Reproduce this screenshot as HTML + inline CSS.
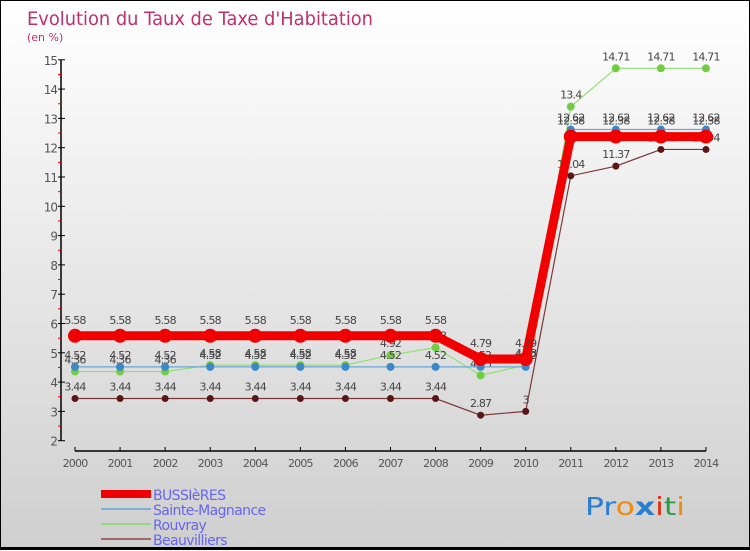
<!DOCTYPE html>
<html><head><meta charset="utf-8"><style>
html,body{margin:0;padding:0}
body{width:750px;height:550px;overflow:hidden;font-family:"DejaVu Sans","Liberation Sans",sans-serif}
#wrap{position:relative;width:748px;height:546px;border:1px solid #000;border-bottom:3px solid #000;background:linear-gradient(#ffffff,#cfcfcf)}
</style></head><body>
<div id="wrap">
<svg id="chart" width="748" height="546" xmlns="http://www.w3.org/2000/svg">
<text x="26" y="24" font-size="19" fill="#c0306a" font-family="DejaVu Sans, sans-serif" textLength="346" lengthAdjust="spacingAndGlyphs">Evolution du Taux de Taxe d'Habitation</text>
<text x="26" y="40" font-size="11" fill="#c0306a">(en %)</text>
<g id="axes"></g><g id="series"></g><g id="legend"></g>
<text x="584" y="514" font-size="25" font-family="DejaVu Sans, sans-serif" textLength="100" lengthAdjust="spacingAndGlyphs"><tspan fill="#2a7fd0">Pr</tspan><tspan fill="#f08a10">o</tspan><tspan fill="#2a7fd0" font-weight="bold">x</tspan><tspan fill="#e03010">i</tspan><tspan fill="#2a9a40">t</tspan><tspan fill="#f08a10">i</tspan></text>
</svg></div>
<script>
const years=[2000,2001,2002,2003,2004,2005,2006,2007,2008,2009,2010,2011,2012,2013,2014];
const bussieres=[5.58,5.58,5.58,5.58,5.58,5.58,5.58,5.58,5.58,4.79,4.79,12.38,12.38,12.38,12.38];
const sainteMagnance=[4.52,4.52,4.52,4.52,4.52,4.52,4.52,4.52,4.52,4.52,4.52,12.62,12.62,12.62,12.62];
const rouvray=[4.36,4.36,4.36,4.58,4.58,4.58,4.58,4.92,5.18,4.23,4.58,13.4,14.71,14.71,14.71];
const beauvilliers=[3.44,3.44,3.44,3.44,3.44,3.44,3.44,3.44,3.44,2.87,3,11.04,11.37,11.94,11.94];
const yTicks=[2,3,4,5,6,7,8,9,10,11,12,13,14,15];
const seriesNames=["BUSSIèRES","Sainte-Magnance","Rouvray","Beauvilliers"];
const NS="http://www.w3.org/2000/svg";
const xs=i=>74+i*45.07;
const ys=v=>439.7-(v-2)*29.3;
function mk(tag,attrs,parent,txt){const e=document.createElementNS(NS,tag);for(const k in attrs)e.setAttribute(k,attrs[k]);if(txt!==undefined)e.textContent=txt;parent.appendChild(e);return e;}
const ax=document.getElementById('axes');
let yl=mk('line',{x1:60,y1:ys(15),x2:60,y2:ys(2),stroke:'#000','stroke-width':1.5},ax);


yTicks.forEach(v=>{
  mk('line',{x1:57,y1:ys(v),x2:64,y2:ys(v),stroke:'#000'},ax);
  if(v<15) mk('line',{x1:57,y1:ys(v+0.5),x2:60,y2:ys(v+0.5),stroke:'#e00'},ax);
  let t=mk('text',{x:56,y:ys(v)+5,'font-size':12,fill:'#555','text-anchor':'end','letter-spacing':'-1'},ax,v);
  
  
});
let xl=mk('line',{x1:xs(0),y1:450,x2:xs(14),y2:450,stroke:'#000','stroke-width':1.5},ax);


years.forEach((y,i)=>{
  mk('line',{x1:xs(i),y1:446,x2:xs(i),y2:450,stroke:'#000'},ax);
  let t=mk('text',{x:xs(i),y:466,'font-size':11,fill:'#555','text-anchor':'middle','letter-spacing':'-0.8'},ax,y);
  
  
});
const sg=document.getElementById('series');
const defs=[
 {d:beauvilliers,c:'#7a3a3a',pc:'#5a1616',w:1.2,r:3.5,n:'beauvilliers'},
 {d:rouvray,c:'#90e070',pc:'#70cc40',w:1.2,r:4,n:'rouvray'},
 {d:sainteMagnance,c:'#6aa6d8',pc:'#3a88c8',w:1.2,r:4,n:'sainte-magnance'},
 {d:bussieres,c:'#f00000',pc:'#f00000',w:9,r:7,n:'bussieres'}];
defs.forEach(s=>{
  const g=mk('g',{},sg);
  
  
  const pts=s.d.map((v,i)=>xs(i)+','+ys(v)).join(' ');
  mk('polyline',{points:pts,fill:'none',stroke:s.c,'stroke-width':s.w},g);
  s.d.forEach((v,i)=>{
    const c=mk('circle',{cx:xs(i),cy:ys(v),r:s.r,fill:s.pc},g);
    
    
    const off=s.n==='bussieres'?-12:-8;
    mk('text',{x:xs(i),y:ys(v)+off,'font-size':11,fill:'#444','text-anchor':'middle','letter-spacing':'-0.8'},g,String(v));
  });
});
const lg=document.getElementById('legend');
const lc=['#ee0000','#7fb0d8','#98d880','#a06868'],lw=[8,2,2,2];
seriesNames.forEach((n,i)=>{
  const y=493+i*15;
  const g=mk('g',{},lg);
  
  
  mk('line',{x1:100,y1:y,x2:150,y2:y,stroke:lc[i],'stroke-width':lw[i]},g);
  mk('text',{x:152,y:y+6,'font-size':14,fill:'#6666ee','letter-spacing':'-0.6'},g,n);
});
</script>
</body></html>
